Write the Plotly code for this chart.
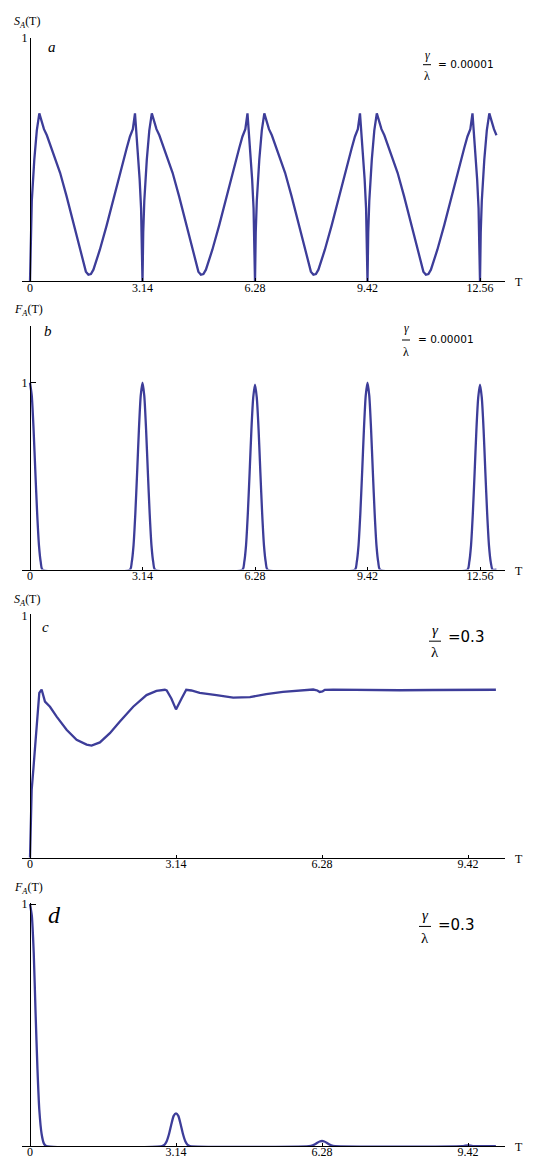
import plotly.graph_objects as go

# ---------------- data ----------------
# panel a : S_A(T), gamma/lambda = 0.00001
t_a = [0, 0.02, 0.05, 0.12, 0.19, 0.26, 0.33, 0.39, 0.47, 0.65, 0.84, 1.02, 1.21, 1.40, 1.49, 1.56, 1.63, 1.70, 1.77, 1.95, 2.14, 2.33, 2.51, 2.70, 2.79, 2.87, 2.93, 3.00, 3.06, 3.10, 3.12,
       3.14, 3.16, 3.19, 3.26, 3.33, 3.40, 3.47, 3.53, 3.61, 3.79, 3.98, 4.16, 4.35, 4.54, 4.63, 4.70, 4.77, 4.84, 4.91, 5.09, 5.28, 5.47, 5.65, 5.84, 5.93, 6.01, 6.07, 6.14, 6.20, 6.24, 6.26,
       6.28, 6.30, 6.33, 6.40, 6.47, 6.54, 6.61, 6.67, 6.75, 6.93, 7.12, 7.30, 7.49, 7.68, 7.77, 7.84, 7.91, 7.98, 8.05, 8.23, 8.42, 8.61, 8.79, 8.98, 9.07, 9.15, 9.21, 9.28, 9.34, 9.38, 9.40,
       9.42, 9.44, 9.47, 9.54, 9.61, 9.68, 9.75, 9.81, 9.89, 10.07, 10.26, 10.44, 10.63, 10.82, 10.91, 10.98, 11.05, 11.12, 11.19, 11.37, 11.56, 11.75, 11.93, 12.12, 12.21, 12.29, 12.35, 12.42, 12.48, 12.52, 12.54,
       12.56, 12.58, 12.61, 12.68, 12.75, 12.82, 12.89, 12.95, 13.02]
s_a = [0, 0.20, 0.33, 0.50, 0.62, 0.69, 0.65, 0.625, 0.60, 0.527, 0.446, 0.35, 0.24, 0.13, 0.078, 0.04, 0.027, 0.03, 0.048, 0.13, 0.23, 0.34, 0.446, 0.548, 0.595, 0.625, 0.69, 0.55, 0.42, 0.30, 0.20,
       0, 0.20, 0.33, 0.50, 0.62, 0.69, 0.65, 0.625, 0.60, 0.527, 0.446, 0.35, 0.24, 0.13, 0.078, 0.04, 0.027, 0.03, 0.048, 0.13, 0.23, 0.34, 0.446, 0.548, 0.595, 0.625, 0.69, 0.55, 0.42, 0.30, 0.20,
       0, 0.20, 0.33, 0.50, 0.62, 0.69, 0.65, 0.625, 0.60, 0.527, 0.446, 0.35, 0.24, 0.13, 0.078, 0.04, 0.027, 0.03, 0.048, 0.13, 0.23, 0.34, 0.446, 0.548, 0.595, 0.625, 0.69, 0.55, 0.42, 0.30, 0.20,
       0, 0.20, 0.33, 0.50, 0.62, 0.69, 0.65, 0.625, 0.60, 0.527, 0.446, 0.35, 0.24, 0.13, 0.078, 0.04, 0.027, 0.03, 0.048, 0.13, 0.23, 0.34, 0.446, 0.548, 0.595, 0.625, 0.69, 0.55, 0.42, 0.30, 0.20,
       0, 0.20, 0.33, 0.50, 0.62, 0.69, 0.65, 0.625, 0.60]

# panel b : F_A(T), gamma/lambda = 0.00001
t_b = [0, 0.05, 0.10, 0.15, 0.20, 0.25, 0.30, 0.35,
       2.79, 2.84, 2.89, 2.94, 2.99, 3.04, 3.09, 3.14, 3.19, 3.24, 3.29, 3.34, 3.39, 3.44, 3.49,
       5.93, 5.98, 6.03, 6.08, 6.13, 6.18, 6.23, 6.28, 6.33, 6.38, 6.43, 6.48, 6.53, 6.58, 6.63,
       9.07, 9.12, 9.17, 9.22, 9.27, 9.32, 9.37, 9.42, 9.47, 9.52, 9.57, 9.62, 9.67, 9.72, 9.77,
       12.21, 12.26, 12.31, 12.36, 12.41, 12.46, 12.51, 12.56, 12.61, 12.66, 12.71, 12.76, 12.81, 12.86, 12.91, 13.02]
f_b = [1.0, 0.93, 0.75, 0.52, 0.30, 0.13, 0.04, 0.0,
       0.0, 0.04, 0.13, 0.30, 0.52, 0.75, 0.93, 1.0, 0.93, 0.75, 0.52, 0.30, 0.13, 0.04, 0.0,
       0.0, 0.04, 0.13, 0.30, 0.52, 0.75, 0.92, 0.99, 0.92, 0.75, 0.52, 0.30, 0.13, 0.04, 0.0,
       0.0, 0.04, 0.13, 0.30, 0.52, 0.75, 0.93, 1.0, 0.93, 0.75, 0.52, 0.30, 0.13, 0.04, 0.0,
       0.0, 0.04, 0.13, 0.30, 0.52, 0.75, 0.92, 0.99, 0.92, 0.75, 0.52, 0.30, 0.13, 0.04, 0.0, 0.0]

# panel c : S_A(T), gamma/lambda = 0.3
t_c = [0, 0.036, 0.072, 0.143, 0.20, 0.25, 0.29, 0.322, 0.43, 0.573, 0.787, 1.002, 1.217, 1.324, 1.503, 1.718, 1.933, 2.219, 2.506,
       2.72, 2.90, 2.94, 3.04, 3.14, 3.26, 3.36, 3.47, 3.65, 4.01, 4.37, 4.73, 5.08, 5.44, 5.80, 6.09, 6.18, 6.23, 6.29, 6.34,
       6.52, 7.23, 7.95, 8.66, 9.38, 10.02]
s_c = [0, 0.28, 0.365, 0.555, 0.68, 0.694, 0.665, 0.644, 0.623, 0.582, 0.528, 0.487, 0.467, 0.463, 0.476, 0.514, 0.562, 0.623, 0.671,
       0.688, 0.693, 0.69, 0.657, 0.612, 0.657, 0.693, 0.69, 0.68, 0.671, 0.661, 0.663, 0.675, 0.684, 0.691, 0.694, 0.69, 0.684, 0.686, 0.693,
       0.694, 0.692, 0.691, 0.692, 0.693, 0.693]

# panel d : F_A(T), gamma/lambda = 0.3
t_d = [0, 0.04, 0.08, 0.12, 0.16, 0.20, 0.25, 0.30, 0.35,
       2.84, 2.89, 2.94, 2.99, 3.04, 3.09, 3.14, 3.19, 3.24, 3.29, 3.34, 3.39, 3.44,
       6.00, 6.08, 6.13, 6.18, 6.23, 6.28, 6.33, 6.38, 6.43, 6.48, 6.56,
       9.30, 9.36, 9.42, 9.48, 9.54, 10.02]
f_d = [1.0, 0.95, 0.80, 0.55, 0.32, 0.15, 0.05, 0.01, 0.0,
       0.0, 0.005, 0.02, 0.05, 0.09, 0.125, 0.135, 0.125, 0.09, 0.05, 0.02, 0.005, 0.0,
       0.0, 0.003, 0.008, 0.014, 0.019, 0.021, 0.019, 0.014, 0.008, 0.003, 0.0,
       0.0, 0.002, 0.003, 0.002, 0.0, 0.0]

ticks_ab = [0, 3.14, 6.28, 9.42, 12.56]
ticks_cd = [0, 3.14, 6.28, 9.42]
tick_text_ab = ["0", "3.14", "6.28", "9.42", "12.56"]
tick_text_cd = ["0", "3.14", "6.28", "9.42"]

panels = [
    dict(t=t_a, v=s_a, shape="linear", ylab="<i>S</i><sub><i>A</i></sub>(T)", letter="a", ratio="= 0.00001",
         ticks=ticks_ab, tt=tick_text_ab),
    dict(t=t_b, v=f_b, shape="spline", ylab="<i>F</i><sub><i>A</i></sub>(T)", letter="b", ratio="= 0.00001",
         ticks=ticks_ab, tt=tick_text_ab),
    dict(t=t_c, v=s_c, shape="linear", ylab="<i>S</i><sub><i>A</i></sub>(T)", letter="c", ratio="=0.3",
         ticks=ticks_cd, tt=tick_text_cd),
    dict(t=t_d, v=f_d, shape="spline", ylab="<i>F</i><sub><i>A</i></sub>(T)", letter="d", ratio="=0.3",
         ticks=ticks_cd, tt=tick_text_cd),
]

# ---------------- layout helpers (pixel geometry) ----------------
# the page body has an 8px margin, so the figure is placed from (8, 8)
OFF = 8
W, H = 536 - OFF, 1160 - OFF
def px(x):
    return (x - OFF) / W
def py(y):
    return 1 - (y - OFF) / H

LINE = "#3d3d99"
SERIF = "Liberation Serif"
SANS = "DejaVu Sans"

geo = [
    dict(bot=276, top=31, ymax=1.0, s=450 / 12.56),
    dict(bot=566, top=321, ymax=1.303, s=450 / 12.56),
    dict(bot=856, top=611, ymax=1.004, s=438 / 9.42),
    dict(bot=1146, top=901, ymax=1.006, s=438 / 9.42),
]
ann_pos = [
    dict(lab_y=15, let=(52, 40, 15), g=(427, 48, 58, 69, 8, 12), r=(436, 57, 10.5)),
    dict(lab_y=305, let=(48, 326, 15), g=(406, 323, 335, 347, 8, 12), r=(416, 334, 10.5)),
    dict(lab_y=597, let=(45, 624, 15), g=(435, 627, 638, 649, 12, 15), r=(446, 634, 15)),
    dict(lab_y=886, let=(54, 913, 24), g=(425, 913, 925, 937, 12, 15), r=(436, 924, 15)),
]

fig = go.Figure()
annotations = []
shapes = []
X0, XAX, XEND = 22, 30, 505

for i, (p, g, a) in enumerate(zip(panels, geo, ann_pos)):
    k = "" if i == 0 else str(i + 1)
    fig.add_trace(go.Scatter(x=p["t"], y=p["v"], mode="lines",
                             line=dict(color=LINE, width=2.3, shape=p["shape"], smoothing=0.6),
                             xaxis="x" + k, yaxis="y" + k, showlegend=False,
                             hoverinfo="skip"))
    s = g["s"]
    fig.layout["xaxis" + k] = dict(
        domain=[px(X0), px(XEND)], range=[-(XAX - X0) / s, (XEND - XAX) / s],
        anchor="y" + k, showgrid=False, zeroline=False, showline=True,
        linecolor="black", linewidth=1, ticks="inside", ticklen=3, tickwidth=1,
        tickcolor="black", tickvals=p["ticks"], ticktext=p["tt"], ticklabelstandoff=-5,
        tickfont=dict(family=SERIF, size=12, color="black"), fixedrange=True)
    fig.layout["yaxis" + k] = dict(
        domain=[py(g["bot"]), py(g["top"])], range=[0, g["ymax"]],
        anchor="free", position=px(XAX), showgrid=False, zeroline=False,
        showline=True, linecolor="black", linewidth=1, ticks="inside",
        ticklen=5, tickwidth=1, tickcolor="black", tickvals=[1], ticktext=["1"],
        tickfont=dict(family=SERIF, size=12, color="black"), fixedrange=True)

    annotations.append(dict(text=p["ylab"], x=px(12), y=py(a["lab_y"]), xref="paper", yref="paper",
                            xanchor="left", yanchor="middle", showarrow=False,
                            font=dict(family=SERIF, size=12, color="black")))
    lx, ly, lsz = a["let"]
    annotations.append(dict(text="<i>%s</i>" % p["letter"], x=px(lx), y=py(ly), xref="paper", yref="paper",
                            xanchor="center", yanchor="middle", showarrow=False,
                            font=dict(family=SERIF, size=lsz, color="black")))
    gx, gy, by, ly2, bw, fsz = a["g"]
    annotations.append(dict(text="<i>γ</i>", x=px(gx), y=py(gy), xref="paper", yref="paper",
                            xanchor="center", yanchor="middle", showarrow=False,
                            font=dict(family=SERIF, size=fsz, color="black")))
    annotations.append(dict(text="λ", x=px(gx), y=py(ly2), xref="paper", yref="paper",
                            xanchor="center", yanchor="middle", showarrow=False,
                            font=dict(family=SERIF, size=fsz, color="black")))
    shapes.append(dict(type="line", xref="paper", yref="paper",
                       x0=px(gx - bw / 2), x1=px(gx + bw / 2), y0=py(by), y1=py(by),
                       line=dict(color="black", width=1)))
    rx, ry, rsz = a["r"]
    annotations.append(dict(text=p["ratio"], x=px(rx), y=py(ry), xref="paper", yref="paper",
                            xanchor="left", yanchor="middle", showarrow=False,
                            font=dict(family=SANS, size=rsz, color="black")))
    annotations.append(dict(text="T", x=px(519), y=py(g["bot"] + 1), xref="paper", yref="paper",
                            xanchor="center", yanchor="middle", showarrow=False,
                            font=dict(family=SERIF, size=12, color="black")))

fig.update_layout(width=W, height=H, margin=dict(l=0, r=0, t=0, b=0),
                  paper_bgcolor="white", plot_bgcolor="white",
                  annotations=annotations, shapes=shapes, showlegend=False)

fig.write_html("out.html")
